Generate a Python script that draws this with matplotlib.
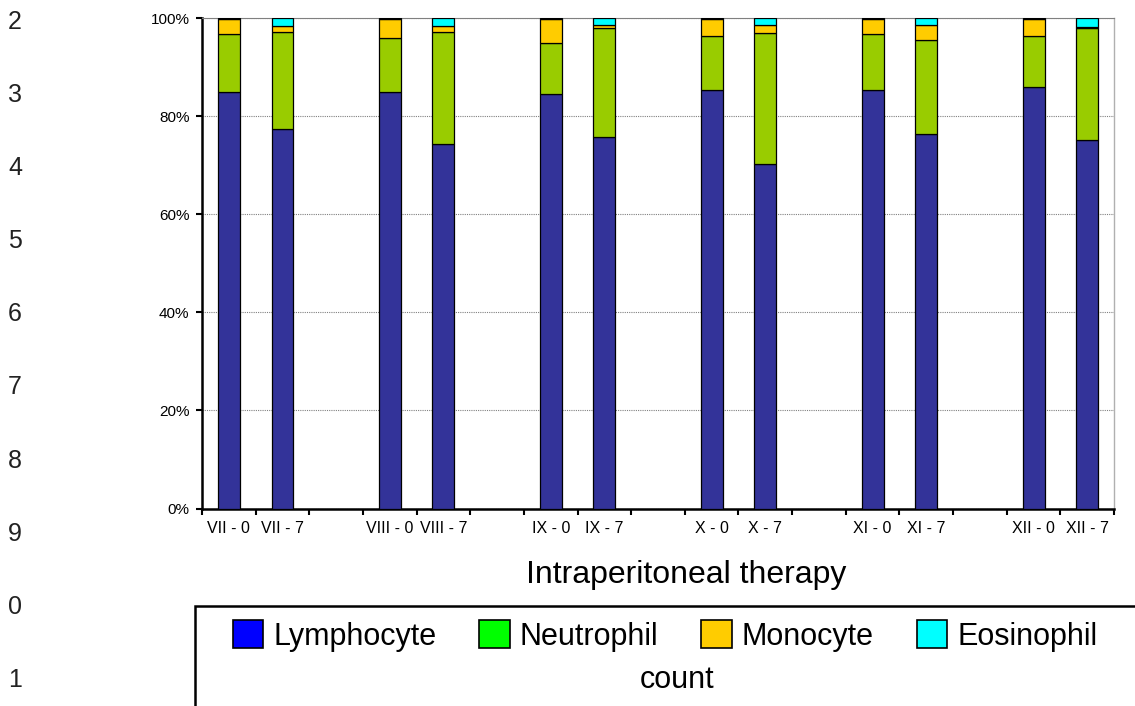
import numpy as np
import matplotlib.pyplot as plt
from matplotlib.patches import Patch, Rectangle

plt.rcParams['font.family'] = ['Liberation Sans', 'DejaVu Sans']

# therapy cycles, each sampled at day 0 and day 7
cycles = ["VII", "VIII", "IX", "X", "XI", "XII"]
days = ["0", "7"]
labels = [f"{c} - {d}" for c in cycles for d in days]

# differential count, percent of leukocytes
lymphocyte = [84.9, 77.4, 85.0, 74.3, 84.6, 75.7, 85.4, 70.2, 85.3, 76.4, 85.9, 75.1]
neutrophil = [12.0, 19.8, 10.9, 23.0, 10.3, 22.3, 11.1, 26.9, 11.5, 19.2, 10.4, 22.9]
monocyte = [2.9, 1.2, 3.9, 1.2, 4.9, 0.6, 3.3, 1.5, 3.0, 3.0, 3.5, 0.3]
eosinophil = [0.2, 1.6, 0.2, 1.5, 0.2, 1.4, 0.2, 1.4, 0.2, 1.4, 0.2, 1.7]

series = [
    ("Lymphocyte", lymphocyte, "#333399", "#0000FF"),
    ("Neutrophil", neutrophil, "#99CC00", "#00FF00"),
    ("Monocyte", monocyte, "#FFCC00", "#FFCC00"),
    ("Eosinophil", eosinophil, "#00FFFF", "#00FFFF"),
]

# two bars per cycle, one empty slot between cycles
pos = np.array([3 * i + j for i in range(len(cycles)) for j in range(len(days))], dtype=float)
n_slots = 3 * len(cycles) - 1

fig = plt.figure(figsize=(11.35, 7.06), dpi=100)
ax = fig.add_axes([0.178, 0.2797, 0.8035, 0.6943])

bottom = np.zeros(len(labels))
for name, vals, col, _ in series:
    vals = np.array(vals)
    ax.bar(pos, vals, width=0.41, bottom=bottom, color=col,
           edgecolor="black", linewidth=0.9, zorder=3)
    bottom += vals

ax.set_xlim(-0.5, n_slots - 0.5)
ax.set_ylim(0, 100)

# category boundaries get tick marks, bar centres get the labels
ax.set_xticks(np.arange(-0.5, n_slots, 1.0))
ax.set_xticklabels([])
ax.set_xticks(pos, minor=True)
ax.set_xticklabels(labels, minor=True, fontsize=11.5)
ax.tick_params(axis="x", which="major", length=4, width=1.5, direction="out")
ax.tick_params(axis="x", which="minor", length=0, pad=9)

ax.set_yticks(np.arange(0, 101, 20))
ax.set_yticklabels([f"{v}%" for v in range(0, 101, 20)], fontsize=11)
ax.tick_params(axis="y", length=4, width=1.5, direction="out", pad=5)

ax.grid(axis="y", color="#808080", linestyle=(0, (1, 1)), linewidth=0.8, zorder=0)
ax.set_axisbelow(True)

for s in ["left", "bottom"]:
    ax.spines[s].set_linewidth(1.8)
    ax.spines[s].set_color("black")
ax.spines["top"].set_color("#808080")
ax.spines["top"].set_linewidth(0.8)
ax.spines["right"].set_color("#b0b0b0")
ax.spines["right"].set_linewidth(1.0)

fig.text(0.605, 1 - 575 / 706, "Intraperitoneal therapy", fontsize=23,
         ha="center", va="center")

# legend box running off the page edge
fig.patches.append(Rectangle((195 / 1135, -0.1), 1.0, 0.1 + (706 - 606) / 706,
                             transform=fig.transFigure, fill=False,
                             edgecolor="black", linewidth=1.8))

handles = [Patch(facecolor=lc, edgecolor="black", linewidth=1.2) for _, _, _, lc in series]
fig.legend(handles, [s[0] for s in series], loc="center",
           bbox_to_anchor=(665 / 1135, 1 - 636 / 706), ncol=4, frameon=False,
           fontsize=22, handlelength=1.0, handleheight=1.0,
           handletextpad=0.33, columnspacing=1.4, borderpad=0)
fig.text(677 / 1135, 1 - 680 / 706, "count", fontsize=22, ha="center", va="center")

# page line numbers in the margin
for k, num in enumerate(["2", "3", "4", "5", "6", "7", "8", "9", "0", "1"]):
    fig.text(8 / 1135, 1 - (22 + 73.1 * k) / 706, num, fontsize=18,
             ha="left", va="center", color="#222222")

fig.savefig("out.png", dpi=100)
